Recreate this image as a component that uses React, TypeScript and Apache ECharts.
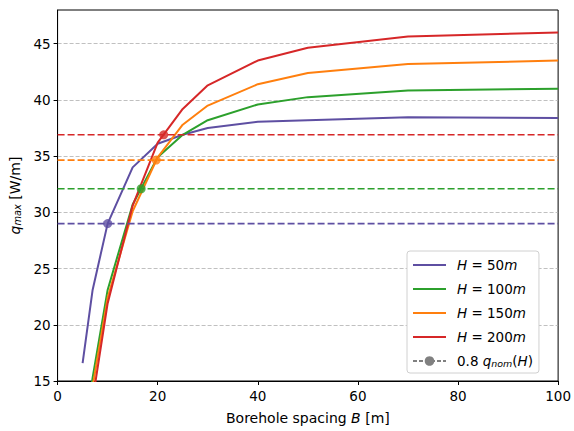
import React, { useEffect, useRef } from "react";
import * as echarts from "echarts";

const spacing = [5, 7, 10, 15, 20, 25, 30, 40, 50, 70, 100];
const q50 = [16.6, 23.1, 29.0, 34.0, 36.1, 36.9, 37.5, 38.05, 38.2, 38.45, 38.4];
const q100 = [9.0, 15.3, 23.1, 30.7, 34.9, 36.9, 38.2, 39.6, 40.25, 40.85, 41.0];
const q150 = [7.0, 14.5, 22.4, 30.1, 34.9, 37.8, 39.5, 41.4, 42.4, 43.2, 43.5];
const q200 = [6.0, 13.3, 21.9, 30.6, 36.2, 39.2, 41.3, 43.5, 44.65, 45.65, 46.0];
const depths = [50, 100, 150, 200];
const nomLevel = [29.0, 32.1, 34.65, 36.9];
const nomSpacing = [10.0, 16.7, 19.7, 21.2];
const colors = ["#5e4fa2", "#2ca02c", "#ff7f0e", "#d62728"];
const yTicks = [15, 20, 25, 30, 35, 40, 45];

const FONT = "DejaVu Sans";
const FS = 13.5;

export default function App() {
  const ref = useRef<HTMLDivElement>(null);
  useEffect(() => {
    if (!ref.current) return;
    const chart = echarts.init(ref.current, null, { renderer: "svg" });
    const curves = [q50, q100, q150, q200];
    const names = depths.map((d) => `H = ${d}m`);
    const lineSeries = curves.map((c, i) => ({
      name: names[i],
      type: "line",
      data: spacing.map((x, j) => [x, c[j]]),
      symbol: "none",
      lineStyle: { color: colors[i], width: 2 },
      itemStyle: { color: colors[i] },
      clip: true,
      z: 2,
    }));
    const dashSeries = nomLevel.map((v, i) => ({
      name: "dash" + i,
      type: "line",
      data: [
        [0, v],
        [100, v],
      ],
      symbol: "none",
      lineStyle: { color: colors[i], width: 1.6, type: [7, 3] },
      z: 3,
    }));
    const markerSeries = nomLevel.map((v, i) => ({
      name: "marker" + i,
      type: "scatter",
      data: [[nomSpacing[i], v]],
      symbol: "circle",
      symbolSize: 9,
      itemStyle: { color: colors[i] },
      z: 4,
    }));
    const legendDummy = {
      name: "nom",
      type: "line",
      data: [],
      symbol: "circle",
      symbolSize: 8,
      showSymbol: true,
      lineStyle: { color: "#808080", width: 1.6, type: [4, 2] },
      itemStyle: { color: "#808080" },
    };
    const mkRich = (fs: number) => ({
      i: { fontFamily: FONT, fontStyle: "italic", fontSize: fs, color: "#000" },
      n: { fontFamily: FONT, fontSize: fs, color: "#000" },
      s: {
        fontFamily: FONT,
        fontStyle: "italic",
        fontSize: fs * 0.7,
        color: "#000",
        verticalAlign: "bottom",
        padding: [5, 0, 0, 0],
      },
    });
    const lineIcon = "path://M0,0H33V2.2H0Z";
    chart.setOption({
      animation: false,
      grid: {
        left: 57,
        right: 15,
        top: 10,
        bottom: 50,
        show: true,
        borderColor: "#000",
        borderWidth: 1,
        backgroundColor: "transparent",
      },
      legend: {
        orient: "vertical",
        left: 407,
        top: 251,
        padding: [7, 6, 5, 5],
        itemWidth: 33,
        itemHeight: 12,
        itemGap: 10,
        backgroundColor: "#fff",
        borderColor: "#d0d0d0",
        borderWidth: 1,
        borderRadius: 3,
        data: [
          ...names.map((n, i) => ({ name: n, icon: lineIcon, itemStyle: { color: colors[i] } })),
          "nom",
        ],
        formatter: (name: string) => {
          if (name === "nom") return "{n|0.8 }{i|q}{s|nom}{n|(}{i|H}{n|)}";
          const d = name.replace("H = ", "").replace("m", "");
          return `{i|H}{n| = ${d}}{i|m}`;
        },
        textStyle: {
          fontFamily: FONT,
          fontSize: FS,
          color: "#000",
          padding: [0, 0, 0, 6],
          rich: mkRich(FS),
        },
      },
      xAxis: {
        type: "value",
        min: 0,
        max: 100,
        interval: 20,
        name: "{n|Borehole spacing }{i|B}{n| [m]}",
        nameLocation: "middle",
        nameGap: 30,
        nameTextStyle: { fontFamily: FONT, fontSize: 14, color: "#000", rich: mkRich(14) },
        axisLine: { show: true, lineStyle: { color: "#000", width: 1 } },
        axisTick: { show: true, length: 4, lineStyle: { color: "#000" } },
        axisLabel: { fontFamily: FONT, fontSize: FS, color: "#000", margin: 8 },
        splitLine: { show: false },
      },
      yAxis: {
        type: "value",
        min: 15,
        max: 48,
        interval: 5,
        name: "{i|q}{s|max}{n| [W/m]}",
        nameLocation: "middle",
        nameRotate: 90,
        nameGap: 34,
        nameTextStyle: { fontFamily: FONT, fontSize: 14, color: "#000", rich: mkRich(14) },
        axisLine: { show: true, lineStyle: { color: "#000", width: 1 } },
        axisTick: {
          show: true,
          length: 4,
          lineStyle: { color: "#000" },
          customValues: yTicks,
        },
        axisLabel: {
          fontFamily: FONT,
          fontSize: FS,
          color: "#000",
          margin: 7,
          customValues: yTicks,
        },
        splitLine: {
          show: true,
          lineStyle: { color: "#b0b0b0", width: 0.8, type: [4, 2] },
        },
      },
      series: [...lineSeries, ...dashSeries, ...markerSeries, legendDummy],
    });
    return () => chart.dispose();
  }, []);
  return <div ref={ref} style={{ width: 574, height: 431, position: "absolute", left: 0, top: 0 }} />;
}
